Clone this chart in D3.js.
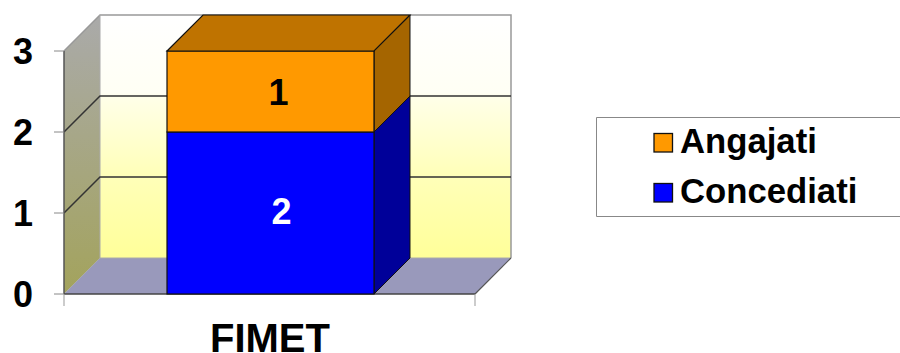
<!DOCTYPE html>
<html>
<head>
<meta charset="utf-8">
<script src="https://cdn.jsdelivr.net/npm/d3@7"></script>
<style>html,body{margin:0;padding:0;background:#fff}svg{display:block}text{font-family:"Liberation Sans",Arial,sans-serif;font-weight:bold}</style>
</head>
<body>
<svg id="c" width="900" height="353"></svg>
<script>
const categories = ["FIMET"];
const seriesNames = ["Concediati", "Angajati"];
const concediati = [2];
const angajati = [1];
const seriesColors = ["#0000ff", "#ff9900"];
const sideColors = ["#000099", "#a56500"];
const yTicks = [0, 1, 2, 3];
const legendOrder = ["Angajati", "Concediati"];

const svg = d3.select("#c");
const y = d3.scaleLinear().domain([0, 3]).range([294, 51]);
const x = d3.scaleBand().domain(categories).range([64, 477]).paddingInner(0).paddingOuter(0.4976);
const dx = 36, dy = -36;
const x0 = 64, x1 = 475;

const defs = svg.append("defs");
function grad(id, stops) {
  const g = defs.append("linearGradient").attr("id", id).attr("x1", 0).attr("y1", 0).attr("x2", 0).attr("y2", 1);
  stops.forEach(([o, c]) => g.append("stop").attr("offset", o).attr("stop-color", c));
}
grad("wall", [[0, "#ffffff"], [0.32, "#fffff4"], [0.34, "#ffffe8"], [0.65, "#ffffba"], [1, "#ffff99"]]);
grad("side", [[0, "#aaaaaa"], [1, "#a3a35c"]]);

const poly = pts => "M" + pts.map(p => p.join(",")).join("L") + "Z";
const yTop = y(3), base = y(0);

// back wall, side wall, floor
svg.append("rect").attr("x", x0 + dx).attr("y", yTop + dy).attr("width", x1 - x0).attr("height", base - yTop).attr("fill", "url(#wall)");
svg.append("path").attr("d", poly([[x0, yTop], [x0 + dx, yTop + dy], [x0 + dx, base + dy], [x0, base]])).attr("fill", "url(#side)");
svg.append("path").attr("d", poly([[x0, base], [x0 + dx, base + dy], [x1 + dx, base + dy], [x1, base]])).attr("fill", "#9999bb");

// wall outlines
svg.append("path").attr("d", `M${x0},${yTop}L${x0 + dx},${yTop + dy}H${x1 + dx}V${base + dy}`).attr("fill", "none").attr("stroke", "#999").attr("stroke-width", 1.5);
svg.append("path").attr("d", `M${x0 + dx},${yTop + dy}V${base + dy}`).attr("fill", "none").attr("stroke", "#aaa").attr("stroke-width", 1);
svg.append("path").attr("d", `M${x0},${base}L${x0 + dx},${base + dy}H${x1 + dx}`).attr("fill", "none").attr("stroke", "#aaa").attr("stroke-width", 1);

// gridlines
yTicks.filter(t => t > 0 && t < 3).forEach(t => {
  svg.append("path").attr("d", `M${x0},${y(t)}L${x0 + dx},${y(t) + dy}H${x1 + dx}`).attr("fill", "none").attr("stroke", "#333").attr("stroke-width", 1.5);
});

// axes
svg.append("path").attr("d", `M${x0},${yTop}V${base}`).attr("stroke", "#555").attr("stroke-width", 1.5);
svg.append("path").attr("d", `M${x0},${base}H${x1}`).attr("stroke", "#444").attr("stroke-width", 1.5);
svg.append("path").attr("d", `M${x1},${base}L${x1 + dx},${base + dy}`).attr("stroke", "#555").attr("stroke-width", 1.2);
yTicks.forEach(t => {
  svg.append("line").attr("x1", 54).attr("x2", x0).attr("y1", y(t)).attr("y2", y(t)).attr("stroke", "#888").attr("stroke-width", 1);
  svg.append("text").attr("x", 23).attr("y", y(t) + 13).attr("text-anchor", "middle").attr("font-size", 36).attr("fill", "#000").text(t);
});
[x0, x1].forEach(v => svg.append("line").attr("x1", v).attr("x2", v).attr("y1", base).attr("y2", base + 12).attr("stroke", "#999").attr("stroke-width", 1));

// stacked bars
const stack = [concediati, angajati];
categories.forEach((c, i) => {
  const bx = x(c), bw = x.bandwidth();
  let cum = 0;
  stack.forEach((vals, s) => {
    const y0 = y(cum), y1 = y(cum + vals[i]);
    cum += vals[i];
    const stroke = "#111";
    svg.append("path").attr("d", poly([[bx + bw, y0], [bx + bw + dx, y0 + dy], [bx + bw + dx, y1 + dy], [bx + bw, y1]]))
      .attr("fill", sideColors[s]).attr("stroke", stroke).attr("stroke-width", 1);
    svg.append("rect").attr("x", bx).attr("y", y1).attr("width", bw).attr("height", y0 - y1).attr("fill", seriesColors[s]).attr("stroke", stroke).attr("stroke-width", 1.2);
    if (s === stack.length - 1) {
      svg.append("path").attr("d", poly([[bx, y1], [bx + dx, y1 + dy], [bx + bw + dx, y1 + dy], [bx + bw, y1]]))
        .attr("fill", "#bf7300").attr("stroke", stroke).attr("stroke-width", 1.2);
    }
    svg.append("text").attr("x", bx + bw / 2 + (s === 0 ? 11 : 8)).attr("y", (y0 + y1) / 2 + (s === 0 ? 11 : 13)).attr("text-anchor", "middle")
      .attr("font-size", 36).attr("fill", s === 0 ? "#fff" : "#000").text(vals[i]);
  });
  svg.append("text").attr("x", (x0 + x1) / 2 + 0.5).attr("y", 352).attr("text-anchor", "middle").attr("font-size", 40).attr("fill", "#000").text(c);
});

// legend
svg.append("path").attr("d", "M900,117.5H596.5V216.5H900").attr("fill", "#fff").attr("stroke", "#888").attr("stroke-width", 1);
const ly = d3.scalePoint().domain(legendOrder).range([142, 192]);
legendOrder.forEach(n => {
  const s = seriesNames.indexOf(n);
  svg.append("rect").attr("x", 654).attr("y", ly(n) - 8.5).attr("width", 18.5).attr("height", 18.5).attr("fill", seriesColors[s]).attr("stroke", "#111").attr("stroke-width", 1.3);
  svg.append("text").attr("x", 680).attr("y", ly(n) + 11).attr("font-size", 34.7).attr("fill", "#000").text(n);
});
</script>
</body>
</html>
